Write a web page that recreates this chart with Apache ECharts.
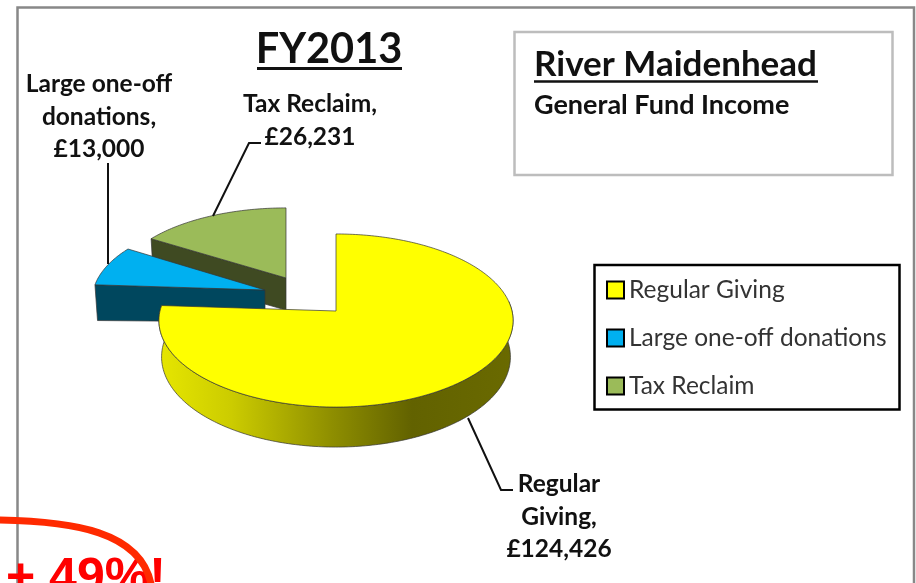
<!DOCTYPE html>
<html><head><meta charset="utf-8">
<style>html,body{margin:0;padding:0;background:#fff;overflow:hidden}#c{width:916px;height:583px}</style>
<script src="https://cdn.jsdelivr.net/npm/echarts@6/dist/echarts.min.js"></script>
</head><body><div id="c"></div>
<script>
const categories = ['Regular Giving', 'Large one-off donations', 'Tax Reclaim'];
const values = [124426, 13000, 26231];
const sliceColors = ['#ffff00', '#00b0f0', '#9bbb59'];
const wallColors = ['#6e6e00', '#00475e', '#3f4a22'];
const labelLines = [['Regular', 'Giving,'], ['Large one-off', 'donations,'], ['Tax Reclaim,']];
const titleText = 'FY2013';
const boxTitle = 'River Maidenhead';
const boxSubtitle = 'General Fund Income';
const noteText = '+ 49%!';

const FONT = 'Lato, Carlito, "Open Sans", sans-serif';
const total = values.reduce((a, b) => a + b, 0);
const R = 176, K = 85.5, P = 0.11;
// apex, scale of the exploded slices and their label layout
const layout = [
  { apex: [336, 311], sx: 1, sy: 1, z: 3, leader: [[468, 418], [501, 490], [513, 490]], label: [559, 484] },
  { apex: [265, 290], sx: 0.975, sy: 0.95, z: 2, leader: [[108, 264], [108, 163]], label: [99, 84] },
  { apex: [286, 278], sx: 0.96, sy: 0.91, z: 1, leader: [[213, 216], [249, 143], [261, 143]], label: [310, 104] }
];
const money = v => '£' + v.toLocaleString('en-GB');

function rim(deg, l, lower) {
  const t = deg * Math.PI / 180, u = Math.sin(t), v = -Math.cos(t), w = 1 - P * v;
  let x = R * u / w * l.sx, y = K * v / w * l.sy;
  if (lower) { x *= 0.985; y += 36 + 4 * v; }
  return [l.apex[0] + x, l.apex[1] + y];
}
function arcPts(a, b, l, lower) {
  const pts = [], n = Math.max(4, Math.ceil(Math.abs(b - a)));
  for (let i = 0; i <= n; i++) pts.push(rim(a + (b - a) * i / n, l, lower));
  return pts;
}
const yellowWall = { type: 'linear', x: 160, y: 0, x2: 515, y2: 0, global: true, colorStops: [
  { offset: 0, color: '#e6e600' }, { offset: 0.2, color: '#cccc00' }, { offset: 0.48, color: '#8f8f00' },
  { offset: 0.71, color: '#626200' }, { offset: 1, color: '#6a6a00' }] };

function sliceItem(idx) {
  return function () {
    let start = 0;
    for (let i = 0; i < idx; i++) start += values[i] / total * 360;
    const end = start + values[idx] / total * 360, l = layout[idx];
    const kids = [];
    const edge = { stroke: '#333', lineWidth: 0.7 };
    let wall;
    if (idx === 0) {
      wall = arcPts(83.7, end, l, false).concat(arcPts(end, 83.7, l, true));
    } else {
      const a = l.apex, bot = [a[0], a[1] + 32];
      wall = [rim(start, l, false), a, bot, rim(start, l, true)];
    }
    kids.push({ type: 'polygon', shape: { points: wall },
      style: Object.assign({ fill: idx === 0 ? yellowWall : wallColors[idx] }, edge) });
    kids.push({ type: 'polygon', shape: { points: [l.apex].concat(arcPts(start, end, l, false)) },
      style: Object.assign({ fill: sliceColors[idx] }, edge) });
    kids.push({ type: 'polyline', shape: { points: l.leader }, style: { stroke: '#111', lineWidth: 2, fill: null } });
    kids.push({ type: 'text', style: {
      text: labelLines[idx].concat([money(values[idx])]).join('\n'), x: l.label[0], y: l.label[1] - 16,
      align: 'center', verticalAlign: 'top', fontFamily: FONT, fontWeight: 700, fontSize: 24.5, lineHeight: 32.5, fill: '#111' } });
    return { type: 'group', children: kids };
  };
}

const chart = echarts.init(document.getElementById('c'), null, { renderer: 'canvas' });
chart.setOption({
  animation: false,
  backgroundColor: '#fff',
  legend: {
    left: 606, top: 277.5, orient: 'vertical', icon: 'rect', itemWidth: 17, itemHeight: 17, itemGap: 23, padding: 0,
    data: categories, selectedMode: false,
    itemStyle: { borderColor: '#000', borderWidth: 2 },
    textStyle: { fontFamily: FONT, fontSize: 24.5, lineHeight: 25, color: '#333' }
  },
  series: categories.map((name, i) => ({
    type: 'custom', name, coordinateSystem: 'none', z: layout[i].z, silent: true,
    itemStyle: { color: sliceColors[i] }, data: [values[i]], renderItem: sliceItem(i), clip: false
  })),
  graphic: [
    { type: 'polyline', z: 0, shape: { points: [[17.5, 590], [17.5, 7.5], [914, 7.5], [914, 590]] }, style: { stroke: '#888', lineWidth: 2.5, fill: null } },
    { type: 'rect', z: 0, shape: { x: 514.5, y: 32, width: 378, height: 143 }, style: { stroke: '#bdbdbd', lineWidth: 2.5, fill: '#fff' } },
    { type: 'rect', z: 0, shape: { x: 594.5, y: 265, width: 305, height: 144.5 }, style: { stroke: '#000', lineWidth: 2.5, fill: '#fff' } },
    { type: 'text', z: 5, style: { text: titleText, x: 329, y: 50, align: 'center', verticalAlign: 'middle', fontFamily: FONT, fontWeight: 700, fontSize: 41.5, fill: '#111' } },
    { type: 'line', z: 5, shape: { x1: 257, y1: 68.5, x2: 402, y2: 68.5 }, style: { stroke: '#111', lineWidth: 3 } },
    { type: 'text', z: 5, style: { text: boxTitle, x: 534, y: 65, align: 'left', verticalAlign: 'middle', fontFamily: FONT, fontWeight: 700, fontSize: 35, fill: '#111' } },
    { type: 'line', z: 5, shape: { x1: 534, y1: 81.5, x2: 818, y2: 81.5 }, style: { stroke: '#111', lineWidth: 2.5 } },
    { type: 'text', z: 5, style: { text: boxSubtitle, x: 534, y: 105, align: 'left', verticalAlign: 'middle', fontFamily: FONT, fontWeight: 700, fontSize: 27, fill: '#111' } },
    { type: 'text', z: 6, style: { text: noteText, x: 6, y: 579, align: 'left', verticalAlign: 'middle', fontFamily: '"Liberation Sans", Arial, sans-serif', fontWeight: 700, fontSize: 50, fill: '#ff0000' } },
    { type: 'bezierCurve', z: 7, shape: { x1: -5, y1: 520, cpx1: 70, cpy1: 521, cpx2: 145, cpy2: 530, x2: 152, y2: 590 }, style: { stroke: '#ff2a00', lineWidth: 7, fill: null } }
  ]
});
</script></body></html>
